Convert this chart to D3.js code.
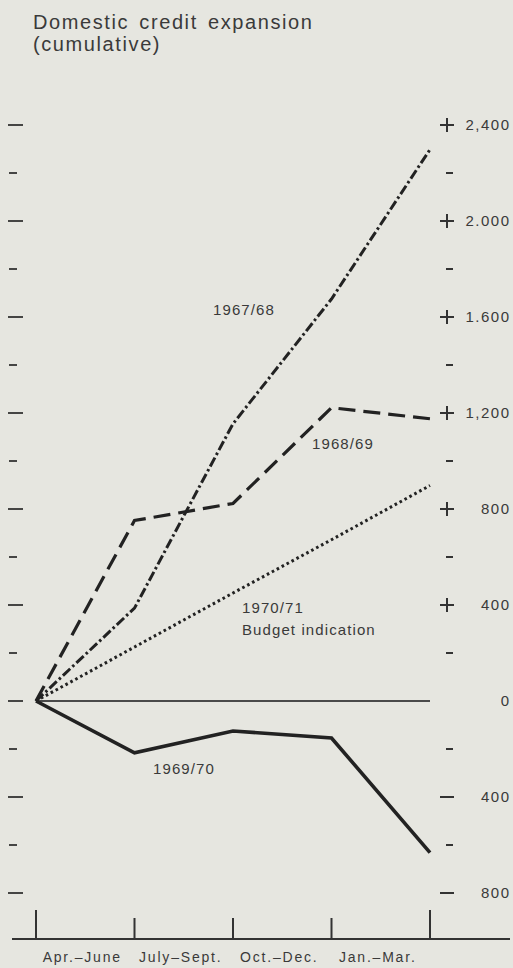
<!DOCTYPE html>
<html>
<head>
<meta charset="utf-8">
<script src="https://cdn.jsdelivr.net/npm/d3@7"></script>
<style>
	body { margin: 0; background: #e6e6e0; }
	text { font-family: "Liberation Sans", Arial, sans-serif; fill: #3a3a3a; }
</style>
</head>
<body>
<div id="svg-container"></div>
<script>
var width = 513;
var height = 968;

// quarters, 0 = start of the fiscal year
var steps = [0, 1, 2, 3, 4];
var periods = ["Apr.–June", "July–Sept.", "Oct.–Dec.", "Jan.–Mar."];

// cumulative domestic credit expansion, £ million
var s6768 = [0, 387, 1155, 1675, 2298];
var s6869 = [0, 752, 823, 1222, 1176];
var s6970 = [0, -216, -125, -154, -632];
var s7071 = [0, 225, 450, 672, 898];
var zero = [0, 0, 0, 0, 0];

var majorTicks = [2400, 2000, 1600, 1200, 800, 400, 0, -400, -800];
var majorLabels = ["2,400", "2.000", "1.600", "1,200", "800", "400", "0", "400", "800"];
var minorTicks = [2200, 1800, 1400, 1000, 600, 200, -200, -600];

var svg = d3.select("#svg-container").append("svg")
	.attr("width", width)
	.attr("height", height);

var x = d3.scaleLinear().domain([0, 4]).range([36, 430]);
var y = d3.scaleLinear().domain([-800, 2400]).range([893, 125]);

// title
svg.append("text")
	.attr("x", 33)
	.attr("y", 29)
	.attr("font-size", 20)
	.attr("letter-spacing", 1.6)
	.attr("word-spacing", 3)
	.text("Domestic credit expansion");
svg.append("text")
	.attr("x", 33)
	.attr("y", 51)
	.attr("font-size", 20)
	.attr("letter-spacing", 1.6)
	.text("(cumulative)");

// left ticks
svg.selectAll("line.lmajor")
	.data(majorTicks)
	.enter()
	.append("line")
	.attr("x1", 8)
	.attr("x2", 23)
	.attr("y1", function(d) { return y(d); })
	.attr("y2", function(d) { return y(d); })
	.attr("stroke", "#333")
	.attr("stroke-width", 1.8);
svg.selectAll("line.lminor")
	.data(minorTicks)
	.enter()
	.append("line")
	.attr("x1", 9)
	.attr("x2", 17)
	.attr("y1", function(d) { return y(d); })
	.attr("y2", function(d) { return y(d); })
	.attr("stroke", "#333")
	.attr("stroke-width", 1.8);

// right axis: + for positive, long dash for negative, short dash between
var right = svg.append("g");
majorTicks.forEach(function(d, i) {
	if (d != 0) {
		right.append("line")
			.attr("x1", 440)
			.attr("x2", 454)
			.attr("y1", y(d))
			.attr("y2", y(d))
			.attr("stroke", "#333")
			.attr("stroke-width", 2);
	}
	if (d > 0) {
		right.append("line")
			.attr("x1", 447)
			.attr("x2", 447)
			.attr("y1", y(d) - 7)
			.attr("y2", y(d) + 7)
			.attr("stroke", "#333")
			.attr("stroke-width", 2);
	}
	right.append("text")
		.attr("x", 510.5)
		.attr("y", y(d))
		.attr("dy", "0.36em")
		.attr("text-anchor", "end")
		.attr("font-size", 15)
		.attr("letter-spacing", 1.5)
		.text(majorLabels[i]);
});
right.selectAll("line.rminor")
	.data(minorTicks)
	.enter()
	.append("line")
	.attr("x1", 446)
	.attr("x2", 453)
	.attr("y1", function(d) { return y(d); })
	.attr("y2", function(d) { return y(d); })
	.attr("stroke", "#333")
	.attr("stroke-width", 2);

// bottom axis
svg.append("line")
	.attr("x1", 12)
	.attr("x2", 510)
	.attr("y1", 939)
	.attr("y2", 939)
	.attr("stroke", "#333")
	.attr("stroke-width", 1.8);
svg.selectAll("line.xtick")
	.data(steps)
	.enter()
	.append("line")
	.attr("x1", function(d) { return x(d); })
	.attr("x2", function(d) { return x(d); })
	.attr("y1", 939)
	.attr("y2", function(d) { return (d == 0 || d == 4) ? 910 : 918; })
	.attr("stroke", "#333")
	.attr("stroke-width", 2);
svg.selectAll("text.period")
	.data(periods)
	.enter()
	.append("text")
	.attr("x", function(d, i) { return (x(i) + x(i + 1)) / 2 - 3; })
	.attr("y", 962)
	.attr("text-anchor", "middle")
	.attr("font-size", 14)
	.attr("letter-spacing", 1.8)
	.text(function(d) { return d; });

var line = d3.line()
	.x(function(d, i) { return x(steps[i]); })
	.y(function(d) { return y(d); });

function drawSeries(values, widthPx, dash, colour) {
	svg.append("path")
		.attr("d", line(values))
		.attr("fill", "none")
		.attr("stroke", colour)
		.attr("stroke-width", widthPx)
		.attr("stroke-dasharray", dash)
		.attr("stroke-linejoin", "miter");
}

drawSeries(zero, 1.8, null, "#4a4a4a");
drawSeries(s7071, 3, "2.6,3", "#222");
drawSeries(s6768, 3, "10,3,2.5,3", "#222");
drawSeries(s6869, 3.2, "17,8", "#222");
drawSeries(s6970, 3.6, null, "#222");

// series labels
function label(txt, lx, ly) {
	svg.append("text")
		.attr("x", lx)
		.attr("y", ly)
		.attr("font-size", 15)
		.attr("letter-spacing", 1.1)
		.text(txt);
}
label("1967/68", 213, 315);
label("1968/69", 312, 449);
label("1970/71", 242, 613);
label("Budget indication", 242, 635);
label("1969/70", 153, 774);
</script>
</body>
</html>
